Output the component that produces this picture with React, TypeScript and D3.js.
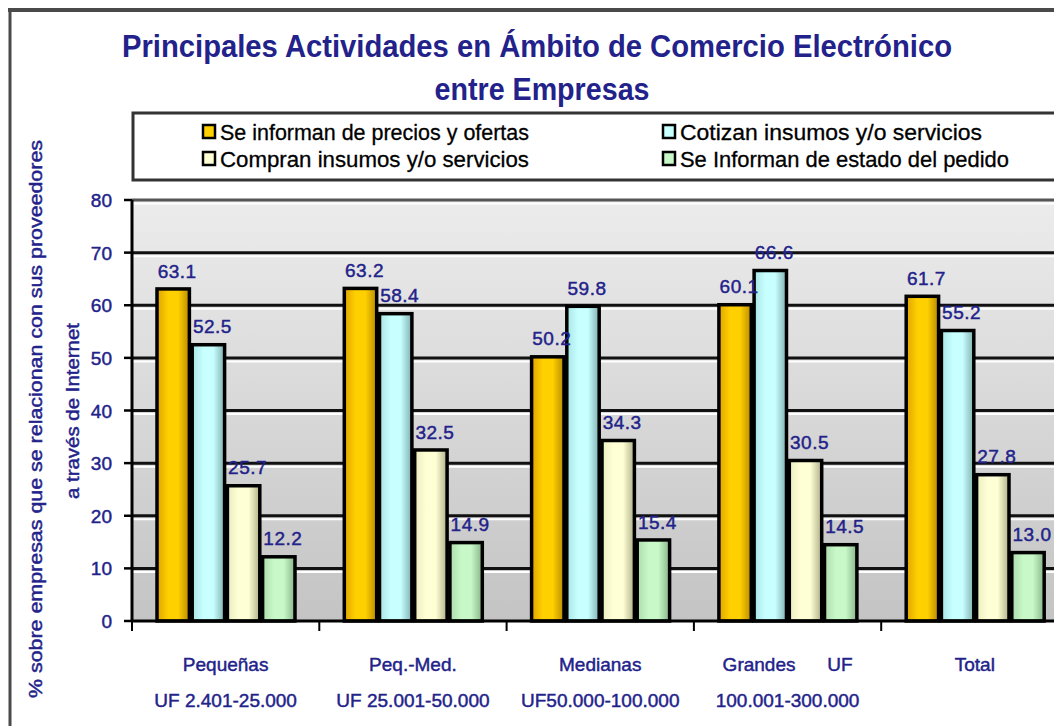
import * as d3 from "d3"

// data
const categoryNames = ["Pequeñas", "Peq.-Med.", "Medianas", "Grandes\u00a0\u00a0\u00a0\u00a0\u00a0\u00a0UF", "Total"]
const categoryRanges = ["UF 2.401-25.000", "UF 25.001-50.000", "UF50.000-100.000", "100.001-300.000", ""]

const seriesNames = [
  "Se informan de precios y ofertas",
  "Cotizan insumos y/o servicios",
  "Compran insumos y/o servicios",
  "Se Informan de estado del pedido",
]

const precios = [63.1, 63.2, 50.2, 60.1, 61.7]
const cotizan = [52.5, 58.4, 59.8, 66.6, 55.2]
const compran = [25.7, 32.5, 34.3, 30.5, 27.8]
const estado = [12.2, 14.9, 15.4, 14.5, 13.0]

const yTicks = [0, 10, 20, 30, 40, 50, 60, 70, 80]

const W = 1054
const H = 726
const NAVY = "#22228a"
const FONT = "'Liberation Sans', Arial, sans-serif"

// gradient stops per series: [left, middle, right]
const barShades = [
  ["#e0a400", "#ffd000", "#b98a00"],
  ["#a8e4e4", "#c8ffff", "#80b0b0"],
  ["#ececc0", "#ffffd6", "#b0b088"],
  ["#acdcac", "#c8f8c8", "#88b488"],
]

export default function App() {
  const values = [precios, cotizan, compran, estado]
  const seriesIdx = d3.range(seriesNames.length)

  const x0 = d3.scaleBand<number>().domain(d3.range(categoryNames.length)).range([132, 1068.5]).padding(0)
  const x1 = d3.scaleBand<number>().domain(seriesIdx).range([25, 163]).paddingInner(0.08)
  const y = d3.scaleLinear().domain([0, 80]).range([621, 200])
  const fmt = d3.format(".1f")

  const plotLeft = x0.range()[0]
  const plotRight = x0.range()[1]

  const bars = categoryNames.flatMap((_, ci) =>
    seriesIdx.map((si) => ({ ci, si, v: values[si][ci] }))
  )

  // slightly heavier text, like the blurry original
  const heavy = { stroke: NAVY, strokeWidth: 0.45 }

  return (
    <div style={{ position: "absolute", left: 0, top: 0 }}>
      <svg width={W} height={H} style={{ display: "block", background: "#ffffff" }} fontFamily={FONT}>
        <defs>
          <linearGradient id="plotBg" x1="0" y1="0" x2="0" y2="1">
            <stop offset="0%" stopColor="#ececec" />
            <stop offset="100%" stopColor="#c4c4c4" />
          </linearGradient>
          {barShades.map((s, i) => (
            <linearGradient key={i} id={`bar${i}`} x1="0" y1="0" x2="1" y2="0">
              <stop offset="0%" stopColor={s[0]} />
              <stop offset="35%" stopColor={s[1]} />
              <stop offset="65%" stopColor={s[1]} />
              <stop offset="100%" stopColor={s[2]} />
            </linearGradient>
          ))}
        </defs>

        {/* outer frame */}
        <line x1={8} x2={W} y1={10} y2={10} stroke="#4a4a4a" strokeWidth={4} />
        <line x1={10} x2={10} y1={10} y2={H} stroke="#4a4a4a" strokeWidth={3} />

        {/* title */}
        <text x={537} y={57} textAnchor="middle" fontSize={31} fontWeight="bold" fill={NAVY}
          textLength={830} lengthAdjust="spacingAndGlyphs">
          Principales Actividades en Ámbito de Comercio Electrónico
        </text>
        <text x={542} y={100} textAnchor="middle" fontSize={31} fontWeight="bold" fill={NAVY}
          textLength={215} lengthAdjust="spacingAndGlyphs">
          entre Empresas
        </text>

        {/* legend */}
        <rect x={133} y={113} width={W} height={67} fill="#ffffff" stroke="#333" strokeWidth={3} />
        {seriesNames.map((name, i) => {
          const col = i % 2
          const row = Math.floor(i / 2)
          const lx = col === 0 ? 203 : 663
          const ly = row === 0 ? 140 : 167
          const lens = [309, 302, 309, 329]
          return (
            <g key={name}>
              <rect x={lx} y={ly - 15} width={12} height={13} fill={barShades[i][1]} stroke="#000" strokeWidth={2.5} />
              <text x={lx + 17} y={ly} fontSize={22} fill="#000" stroke="#000" strokeWidth={0.3}
                textLength={lens[i]} lengthAdjust="spacingAndGlyphs">
                {name}
              </text>
            </g>
          )
        })}

        {/* y axis title */}
        <text transform="translate(42,419) rotate(-90)" textAnchor="middle" fontSize={18} fill={NAVY} {...heavy}
          textLength={558} lengthAdjust="spacingAndGlyphs">
          % sobre empresas que se relacionan con sus proveedores
        </text>
        <text transform="translate(79,411) rotate(-90)" textAnchor="middle" fontSize={18} fill={NAVY} {...heavy}
          textLength={176} lengthAdjust="spacingAndGlyphs">
          a través de Internet
        </text>

        {/* plot background + grid */}
        <rect x={plotLeft} y={y(80)} width={plotRight - plotLeft} height={y(0) - y(80)} fill="url(#plotBg)" />
        {yTicks.filter((t) => t > 0).map((t) => (
          <g key={t}>
            <line x1={plotLeft} x2={plotRight} y1={y(t)} y2={y(t)} stroke={t === 80 ? "#555" : "#111"} strokeWidth={3} />
            <line x1={plotLeft} x2={plotRight} y1={y(t) + 3.5} y2={y(t) + 3.5} stroke="#ffffff" strokeWidth={2} />
          </g>
        ))}

        {/* bars */}
        {bars.map((b) => {
          const bx = (x0(b.ci) ?? 0) + (x1(b.si) ?? 0)
          return (
            <rect key={`${b.ci}-${b.si}`} x={bx} y={y(b.v)} width={x1.bandwidth()} height={y(0) - y(b.v)}
              fill={`url(#bar${b.si})`} stroke="#000" strokeWidth={3.5} />
          )
        })}

        {/* axes */}
        <line x1={plotLeft} x2={plotLeft} y1={y(80)} y2={y(0)} stroke="#000" strokeWidth={3} />
        <line x1={plotLeft} x2={plotRight} y1={y(0)} y2={y(0)} stroke="#000" strokeWidth={3} />
        {yTicks.map((t) => (
          <g key={t}>
            <line x1={124} x2={plotLeft} y1={y(t)} y2={y(t)} stroke="#000" strokeWidth={2.5} />
            <text x={112} y={y(t) + 7} textAnchor="end" fontSize={19} fill={NAVY} {...heavy}>{t}</text>
          </g>
        ))}
        {d3.range(categoryNames.length + 1).map((i) => {
          const tx = plotLeft + i * x0.step()
          return <line key={i} x1={tx} x2={tx} y1={y(0)} y2={y(0) + 10} stroke="#000" strokeWidth={2} />
        })}

        {/* value labels */}
        {bars.map((b) => {
          const cx = (x0(b.ci) ?? 0) + (x1(b.si) ?? 0) + x1.bandwidth() / 2 + 4
          return (
            <text key={`l${b.ci}-${b.si}`} x={cx} y={y(b.v + 3.5) + 7} textAnchor="middle" fontSize={19}
              letterSpacing={0.5} fill={NAVY} {...heavy}>
              {fmt(b.v)}
            </text>
          )
        })}

        {/* category labels */}
        {categoryNames.map((name, i) => {
          const cx = (x0(i) ?? 0) + x0.bandwidth() / 2
          return (
            <g key={i}>
              <text x={cx} y={671} textAnchor="middle" fontSize={19} fill={NAVY} {...heavy}>{name}</text>
              <text x={cx} y={707} textAnchor="middle" fontSize={19} fill={NAVY} {...heavy}>{categoryRanges[i]}</text>
            </g>
          )
        })}
      </svg>
    </div>
  )
}
